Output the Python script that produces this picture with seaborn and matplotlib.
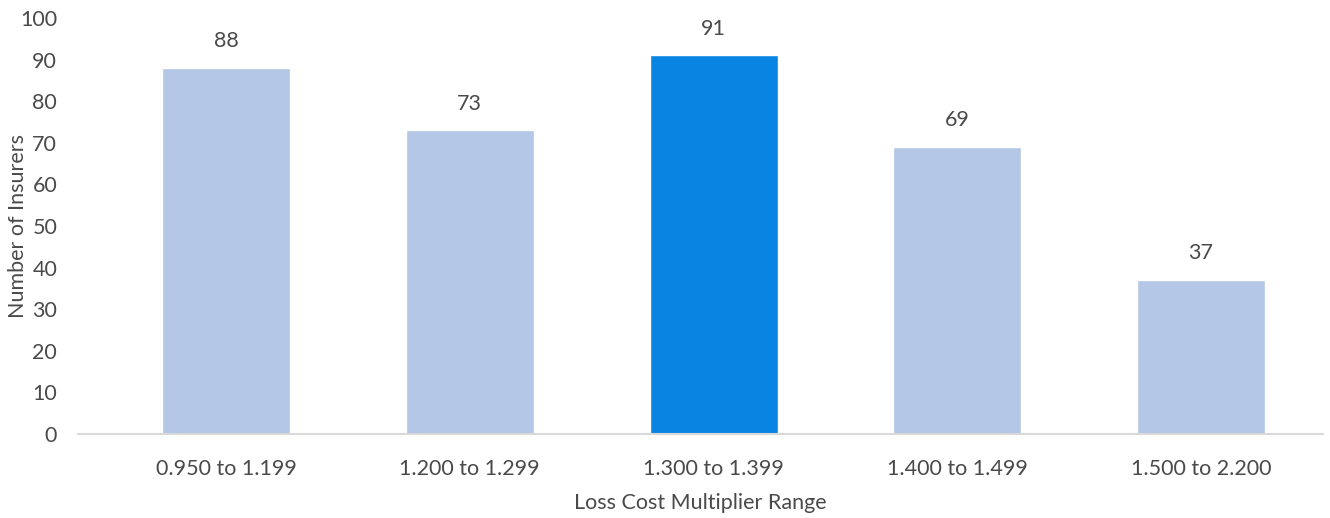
import matplotlib
matplotlib.use("Agg")
import matplotlib.pyplot as plt
import seaborn as sns
import pandas as pd

categories = ["0.950 to 1.199", "1.200 to 1.299", "1.300 to 1.399", "1.400 to 1.499", "1.500 to 2.200"]
insurers = [88, 73, 91, 69, 37]
highlight = "1.300 to 1.399"

sns.set_theme(style="white")
plt.rcParams['font.family'] = ['Lato', 'DejaVu Sans']

text_color = "#4a4a4a"
light = "#B4C7E7"
dark = "#0A84E2"

df = pd.DataFrame({"range": categories, "count": insurers})
palette = {c: (dark if c == highlight else light) for c in categories}

W, H = 1330, 518
fig = plt.figure(figsize=(W / 100, H / 100), dpi=100)
ax = fig.add_axes([78 / W, 1 - 434 / H, (1323 - 78) / W, (434 - 18) / H])

sns.barplot(data=df, x="range", y="count", hue="range", palette=palette,
            width=0.525, legend=False, ax=ax, saturation=1)

ax.set_xlim(-0.607, 4.5)
ax.set_ylim(0, 100)
ax.set_yticks(range(0, 101, 10))
for s in ["top", "right", "left"]:
    ax.spines[s].set_visible(False)
ax.spines["bottom"].set_color("#D9D9D9")
ax.spines["bottom"].set_linewidth(1.5)
ax.tick_params(axis="both", length=0, labelsize=15.5, colors=text_color)
ax.tick_params(axis="y", pad=15)
ax.tick_params(axis="x", pad=18)

for p, v in zip(ax.patches, insurers):
    ax.annotate(f"{v}", (p.get_x() + p.get_width() / 2, p.get_height()),
                xytext=(0, 12), textcoords="offset points", ha="center", va="bottom",
                fontsize=15.5, color=text_color)

ax.set_xlabel("Loss Cost Multiplier Range", fontsize=15.5, color=text_color)
ax.set_ylabel("Number of Insurers", fontsize=15.5, color=text_color)
ax.xaxis.set_label_coords((700 - 78) / (1323 - 78), -(503 - 434) / (434 - 18))
ax.yaxis.set_label_coords((18 - 78) / (1323 - 78), 0.5)
ax.xaxis.label.set_va("center")
ax.yaxis.label.set_va("center")

fig.savefig("out.png", dpi=100)
